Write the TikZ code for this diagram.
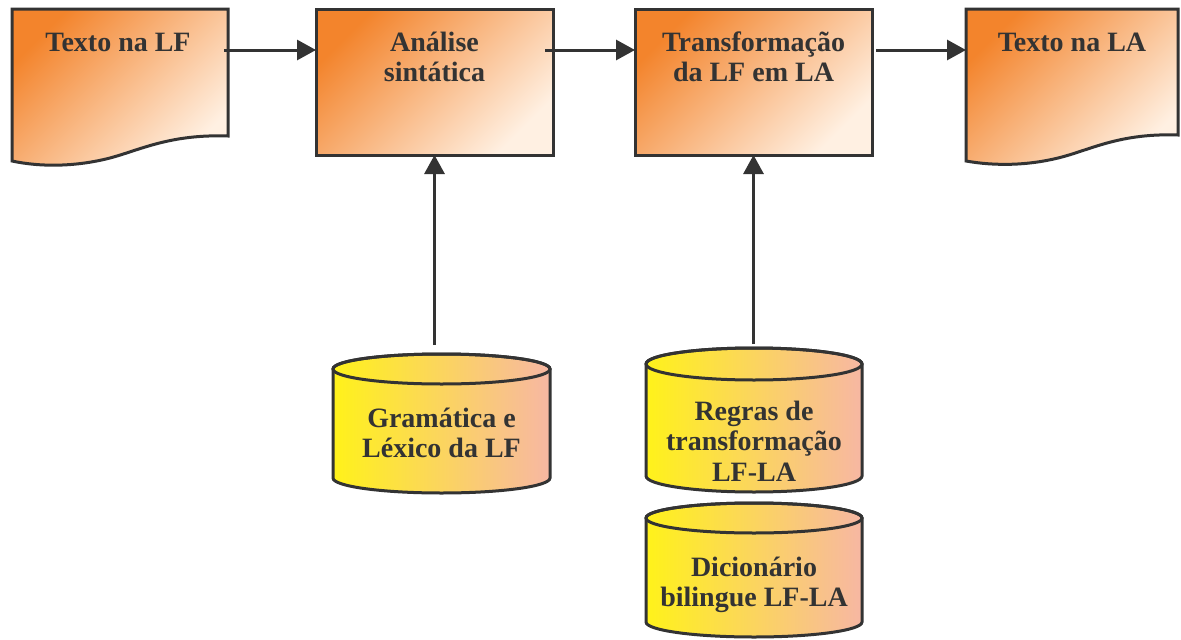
\documentclass[tikz,border=0pt]{standalone}
\usepackage{fontspec}
\setmainfont{Liberation Serif}
\usetikzlibrary{arrows.meta}
\definecolor{ink}{HTML}{333333}
\definecolor{orA}{HTML}{F3842C}
\definecolor{orB}{HTML}{FFF0E2}
\definecolor{yeA}{HTML}{FFF21A}
\definecolor{yeB}{HTML}{F7B7A3}
\begin{document}
\begin{tikzpicture}[x=1pt,y=-1pt,
  outl/.style={draw=ink,line width=3pt,line join=miter},
  orfill/.style={top color=orA,bottom color=orB,shading angle=45},
  yefill/.style={left color=yeA,right color=yeB},
  lbl/.style={font=\bfseries\fontsize{28}{30.5}\selectfont,text=ink,align=center,inner sep=0pt},
  conn/.style={draw=ink,line width=3pt,-{Triangle[length=19pt,width=20pt]}},
  anchorbox/.style={inner sep=0pt,outer sep=0pt,draw=none}
]
\useasboundingbox (0,0) rectangle (1181,640);

% documents
\path[outl,orfill] (12,9) -- (228,9) -- (228,136)
  .. controls (170,134) and (140,150) .. (110,158)
  .. controls (75,167) and (40,167) .. (12,161) -- cycle;
\node[anchorbox,minimum width=216pt,minimum height=153pt] (doc1) at (120,86) {};
\path[outl,orfill] (966,9) -- (1178,9) -- (1178,135)
  .. controls (1121,133) and (1092,149) .. (1062,157)
  .. controls (1028,166) and (994,166) .. (966,161) -- cycle;
\node[anchorbox,minimum width=212pt,minimum height=153pt] (doc2) at (1072,86) {};

% boxes
\node[anchorbox,outl,orfill,minimum width=237pt,minimum height=146pt] (ana) at (434.5,82) {};
\node[anchorbox,outl,orfill,minimum width=237pt,minimum height=146pt] (trf) at (753.5,82) {};

% cylinders
\path[outl,yefill] (333,369) -- (333,478) arc[start angle=180,end angle=0,x radius=108.5,y radius=15]
  -- (550,369) arc[start angle=0,end angle=-180,x radius=108.5,y radius=15] -- cycle;
\draw[outl] (441.5,369) ellipse[x radius=108.5,y radius=15];
\node[anchorbox,minimum width=217pt,minimum height=139pt] (cyl1) at (441.5,423.5) {};

\path[outl,yefill] (646,364) -- (646,476) arc[start angle=180,end angle=0,x radius=108,y radius=16]
  -- (862,364) arc[start angle=0,end angle=-180,x radius=108,y radius=16] -- cycle;
\draw[outl] (754,364) ellipse[x radius=108,y radius=16];
\node[anchorbox,minimum width=216pt,minimum height=144pt] (cyl2) at (754,420) {};

\path[outl,yefill] (646,518) -- (646,622) arc[start angle=180,end angle=0,x radius=108,y radius=15]
  -- (862,518) arc[start angle=0,end angle=-180,x radius=108,y radius=15] -- cycle;
\draw[outl] (754,518) ellipse[x radius=108,y radius=15];
\node[anchorbox,minimum width=216pt,minimum height=134pt] (cyl3) at (754,570) {};

% labels
\node[lbl] (t1) at (118,42) {Texto na LF};
\node[lbl] (t2) at (434.5,57) {Análise\\sintática};
\node[lbl] (t3) at (753.5,57) {Transformação\\da LF em LA};
\node[lbl] (t4) at (1072,42) {Texto na LA};
\node[lbl] (t5) at (441.5,433) {Gramática e\\Léxico da LF};
\node[lbl] (t6) at (754,441) {Regras de\\transformação\\LF-LA};
\node[lbl] (t7) at (754,585) {Dicionário\\bilingue LF-LA};

% connectors
\coordinate (row) at (0,50);
\draw[conn] ([xshift=-4pt]doc1.east |- row) -- (ana.west |- row);
\draw[conn] ([xshift=-8pt]ana.east |- row) -- (trf.west |- row);
\draw[conn] ([xshift=4pt]trf.east |- row) -- (doc2.west |- row);
\draw[conn,shorten <=9pt] (ana.south |- cyl1.north) -- (ana.south);
\draw[conn,shorten <=4pt] (trf.south |- cyl2.north) -- (trf.south);
\end{tikzpicture}
\end{document}
